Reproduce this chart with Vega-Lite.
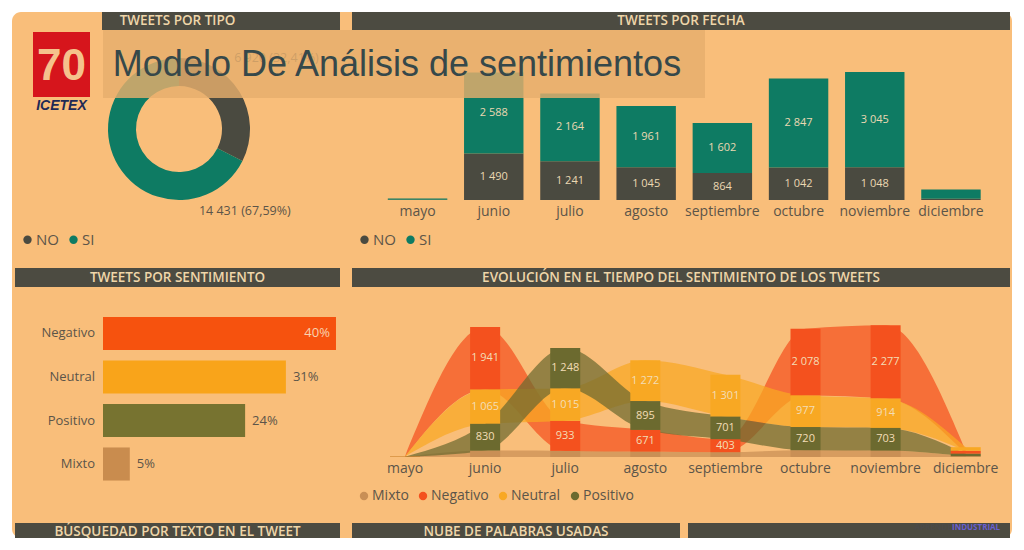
{
"$schema":"https://vega.github.io/schema/vega-lite/v6.json",
"background":"#FFFFFF",
"padding":12,
"spacing":-526,
"align":"none",
"resolve":{"scale":{"color":"independent"},"legend":{"color":"independent"}},
"config":{
 "view":{"stroke":null},
 "font":"Open Sans",
 "locale":{"number":{"decimal":",","thousands":" ","grouping":[3],"currency":["","€"]}},
 "axis":{"labelFont":"Open Sans"},
 "legend":{"labelFont":"Open Sans"}
},
"vconcat":[
 {"width":1000,"height":526,"view":{"fill":"#F9BE7A","cornerRadius":9},"data":{"values":[]},"mark":"point"},
 {"hconcat":[
   {"width":3,"height":526,"data":{"values":[]},"mark":"point"},
   {"hconcat":[
     {"vconcat":[
       {"hconcat":[
         {"vconcat":[
           {"width":87,"height":20,"data":{"values":[]},"mark":"point"},
           {"hconcat":[
             {"width":18,"height":65,"data":{"values":[]},"mark":"point"},
             {"width":57,"height":65,"view":{"fill":"#D6151C"},"data":{"values":[{}]},"mark":{"type":"text","fontSize":44,"fontWeight":"bold","font":"Liberation Sans","color":"#F5C28C","dy":2},"encoding":{"text":{"value":"70"}}}
           ],"spacing":0},
           {"hconcat":[
             {"width":18,"height":18,"data":{"values":[]},"mark":"point"},
             {"width":57,"height":18,"data":{"values":[{}]},"mark":{"type":"text","fontSize":14,"fontWeight":"bold","fontStyle":"italic","font":"Liberation Sans","color":"#1F2A55"},"encoding":{"text":{"value":"ICETEX"}}}
           ],"spacing":0},
           {"width":87,"height":143,
            "data":{"values":[{"tipo":"NO"},{"tipo":"SI"}]},
            "mark":{"type":"circle","size":0},
            "encoding":{"color":{"field":"tipo","type":"nominal","scale":{"domain":["NO","SI"],"range":["#4A4A40","#0E7B63"]},
              "legend":{"orient":"none","legendX":5,"legendY":117,"direction":"horizontal","title":null,"symbolType":"circle","symbolSize":70,"symbolOpacity":1,"labelFontSize":15,"labelColor":"#5C5549","labelOffset":1,"columnPadding":7}}}}
         ],"spacing":0,"resolve":{"scale":{"color":"independent"},"legend":{"color":"independent"}}},
         {"vconcat":[
           {"width":238,"height":18,"view":{"fill":"#4C4B41"},"data":{"values":[{}]},"mark":{"type":"text","color":"#EFD6A9","fontSize":13.5,"fontWeight":600,"dx":-43.5},"encoding":{"text":{"value":"TWEETS POR TIPO"}}},
           {"width":154,"height":198,
            "data":{"values":[{"tipo":"NO","n":6920,"label":"6 920 (32,41%)"},{"tipo":"SI","n":14431,"label":"14 431 (67,59%)"}]},
            "layer":[
              {"mark":{"type":"arc","innerRadius":43,"outerRadius":71},
               "encoding":{"theta":{"field":"n","type":"quantitative","stack":true},
                 "color":{"field":"tipo","type":"nominal","scale":{"domain":["NO","SI"],"range":["#4A4A40","#0E7B63"]},"legend":null}}},
              {"transform":[{"filter":"datum.tipo == 'SI'"}],"mark":{"type":"text","theta":2.902,"radius":84,"align":"left","baseline":"middle","fontSize":12.5,"color":"#5C5549"},"encoding":{"text":{"field":"label"}}},
              {"transform":[{"filter":"datum.tipo == 'NO'"}],"mark":{"type":"text","theta":0.66,"radius":90,"align":"left","baseline":"middle","fontSize":12.5,"color":"#5C5549"},"encoding":{"text":{"field":"label"}}}
            ]},
           {"width":238,"height":30,"data":{"values":[]},"mark":"point"}
         ],"spacing":0,"resolve":{"scale":{"color":"independent"},"legend":{"color":"independent"}}}
       ],"spacing":0,"resolve":{"scale":{"color":"independent"},"legend":{"color":"independent"}}},
       {"vconcat":[
         {"width":325,"height":19,"view":{"fill":"#4C4B41"},"data":{"values":[{}]},"mark":{"type":"text","color":"#EFD6A9","fontSize":13.5,"fontWeight":600},"encoding":{"text":{"value":"TWEETS POR SENTIMIENTO"}}},
         {"width":325,"height":226,
          "data":{"values":[{"s":"Negativo","p":0.40},{"s":"Neutral","p":0.314},{"s":"Positivo","p":0.244},{"s":"Mixto","p":0.046}]},
          "encoding":{
            "y":{"field":"s","type":"nominal","sort":null,"scale":{"paddingInner":0.24,"paddingOuter":0.7176,"align":0.48},"axis":null}
          },
          "layer":[
            {"mark":{"type":"bar"},"encoding":{
              "x":{"field":"p","type":"quantitative","scale":{"domain":[-0.1511,0.4069],"nice":false},"axis":null},
              "color":{"field":"s","type":"nominal","scale":{"domain":["Negativo","Neutral","Positivo","Mixto"],"range":["#F6520E","#F9A41A","#777330","#C98C4E"]},"legend":null}}},
            {"mark":{"type":"text","align":"right","dx":-8,"fontSize":13,"color":"#5C5549"},"encoding":{"x":{"datum":0,"type":"quantitative"},"text":{"field":"s"}}},
            {"transform":[{"filter":"datum.s == 'Negativo'"}],"mark":{"type":"text","align":"right","dx":-6,"fontSize":13,"color":"#F8D3B0"},"encoding":{"x":{"field":"p","type":"quantitative"},"text":{"field":"p","type":"quantitative","format":".0%"}}},
            {"transform":[{"filter":"datum.s != 'Negativo'"}],"mark":{"type":"text","align":"left","dx":7,"fontSize":13,"color":"#5C5549"},"encoding":{"x":{"field":"p","type":"quantitative"},"text":{"field":"p","type":"quantitative","format":".0%"}}}
          ]}
       ],"spacing":0,"resolve":{"scale":{"color":"independent"},"legend":{"color":"independent"}}},
       {"width":325,"height":15,"view":{"fill":"#4C4B41"},"data":{"values":[{}]},"mark":{"type":"text","color":"#EFD6A9","fontSize":13.5,"fontWeight":600,"baseline":"alphabetic","dy":5},"encoding":{"text":{"value":"BÚSQUEDAD POR TEXTO EN EL TWEET"}}}
     ],"spacing":10,"resolve":{"scale":{"color":"independent"},"legend":{"color":"independent"}}},
     {"vconcat":[
       {"vconcat":[
         {"width":658,"height":18,"view":{"fill":"#4C4B41"},"data":{"values":[{}]},"mark":{"type":"text","color":"#EFD6A9","fontSize":13.5,"fontWeight":600},"encoding":{"text":{"value":"TWEETS POR FECHA"}}},
         {"width":658,"height":228,
          "data":{"values":[
            {"mes":"mayo","tipo":"NO","n":8},{"mes":"mayo","tipo":"SI","n":40},
            {"mes":"junio","tipo":"NO","n":1490},{"mes":"junio","tipo":"SI","n":2588},
            {"mes":"julio","tipo":"NO","n":1241},{"mes":"julio","tipo":"SI","n":2164},
            {"mes":"agosto","tipo":"NO","n":1045},{"mes":"agosto","tipo":"SI","n":1961},
            {"mes":"septiembre","tipo":"NO","n":864},{"mes":"septiembre","tipo":"SI","n":1602},
            {"mes":"octubre","tipo":"NO","n":1042},{"mes":"octubre","tipo":"SI","n":2847},
            {"mes":"noviembre","tipo":"NO","n":1048},{"mes":"noviembre","tipo":"SI","n":3045},
            {"mes":"diciembre","tipo":"NO","n":40},{"mes":"diciembre","tipo":"SI","n":300}
          ]},
          "encoding":{
            "x":{"field":"mes","type":"nominal","sort":null,"scale":{"paddingInner":0.22,"paddingOuter":0.4275,"align":0.55},"axis":{"title":null,"domain":false,"ticks":false,"labelAngle":0,"labelPadding":4,"labelFontSize":14,"labelColor":"#5C5549","offset":-58}},
            "y":{"field":"n","type":"quantitative","stack":"zero","scale":{"domain":[-1856,5440],"nice":false},"axis":null},
            "order":{"field":"tipo","type":"ordinal","sort":"ascending"}
          },
          "layer":[
            {"mark":{"type":"bar"},"encoding":{"color":{"field":"tipo","type":"nominal","scale":{"domain":["NO","SI"],"range":["#4A4A40","#0E7B63"]},
              "legend":{"orient":"none","legendX":5,"legendY":202,"direction":"horizontal","title":null,"symbolType":"circle","symbolSize":70,"labelFontSize":15,"labelColor":"#5C5549","labelOffset":1,"columnPadding":7}}}},
            {"mark":{"type":"text","fontSize":11,"color":"#EBD8B2"},"encoding":{
              "y":{"field":"n","type":"quantitative","stack":"zero","bandPosition":0.5},
              "detail":{"field":"tipo","type":"nominal"},
              "text":{"field":"n","type":"quantitative","format":",d"},
              "opacity":{"condition":{"test":"datum.n > 500","value":1},"value":0}}}
          ]}
       ],"spacing":0,"resolve":{"scale":{"color":"independent"},"legend":{"color":"independent"}}},
       {"vconcat":[
         {"width":658,"height":19,"view":{"fill":"#4C4B41"},"data":{"values":[{}]},"mark":{"type":"text","color":"#EFD6A9","fontSize":13.5,"fontWeight":600},"encoding":{"text":{"value":"EVOLUCIÓN EN EL TIEMPO DEL SENTIMIENTO DE LOS TWEETS"}}},
         {"width":658,"height":226,
          "data":{"values":[
            {"mes":"mayo","sent":"Mixto","n":3},{"mes":"mayo","sent":"Negativo","n":6},{"mes":"mayo","sent":"Neutral","n":8},{"mes":"mayo","sent":"Positivo","n":5},
            {"mes":"junio","sent":"Mixto","n":200},{"mes":"junio","sent":"Negativo","n":1941},{"mes":"junio","sent":"Neutral","n":1065},{"mes":"junio","sent":"Positivo","n":830},
            {"mes":"julio","sent":"Mixto","n":190},{"mes":"julio","sent":"Negativo","n":933},{"mes":"julio","sent":"Neutral","n":1015},{"mes":"julio","sent":"Positivo","n":1248},
            {"mes":"agosto","sent":"Mixto","n":170},{"mes":"agosto","sent":"Negativo","n":671},{"mes":"agosto","sent":"Neutral","n":1272},{"mes":"agosto","sent":"Positivo","n":895},
            {"mes":"septiembre","sent":"Mixto","n":150},{"mes":"septiembre","sent":"Negativo","n":403},{"mes":"septiembre","sent":"Neutral","n":1301},{"mes":"septiembre","sent":"Positivo","n":701},
            {"mes":"octubre","sent":"Mixto","n":210},{"mes":"octubre","sent":"Negativo","n":2078},{"mes":"octubre","sent":"Neutral","n":977},{"mes":"octubre","sent":"Positivo","n":720},
            {"mes":"noviembre","sent":"Mixto","n":200},{"mes":"noviembre","sent":"Negativo","n":2277},{"mes":"noviembre","sent":"Neutral","n":914},{"mes":"noviembre","sent":"Positivo","n":703},
            {"mes":"diciembre","sent":"Mixto","n":25},{"mes":"diciembre","sent":"Negativo","n":95},{"mes":"diciembre","sent":"Neutral","n":110},{"mes":"diciembre","sent":"Positivo","n":75}
          ]},
          "transform":[{"stack":"n","groupby":["mes"],"sort":[{"field":"n","order":"ascending"}],"as":["y0","y1"]}],
          "encoding":{
            "x":{"field":"mes","type":"nominal","sort":["mayo","junio","julio","agosto","septiembre","octubre","noviembre","diciembre"],"scale":{"paddingInner":0.625,"paddingOuter":0.42,"align":0.565},"axis":{"title":null,"domain":false,"ticks":false,"labelAngle":0,"labelPadding":4,"labelFontSize":14,"labelColor":"#5C5549","offset":-56}}
          },
          "layer":[
            {"mark":{"type":"area","interpolate":"monotone","opacity":0.72},"encoding":{
              "y":{"field":"y1","type":"quantitative","scale":{"domain":[-1739,5280],"nice":false},"axis":null},
              "y2":{"field":"y0"},
              "color":{"field":"sent","type":"nominal","scale":{"domain":["Mixto","Negativo","Neutral","Positivo"],"range":["#C98F55","#F4511E","#F8A823","#6C6A2F"]},
              "legend":{"orient":"none","legendX":5,"legendY":202,"direction":"horizontal","title":null,"symbolType":"circle","symbolSize":70,"symbolOpacity":1,"labelFontSize":14,"labelColor":"#5C5549","labelOffset":1,"columnPadding":7}}}},
            {"mark":{"type":"bar"},"encoding":{
              "y":{"field":"y1","type":"quantitative","scale":{"domain":[-1739,5280],"nice":false},"axis":null},
              "y2":{"field":"y0"},
              "color":{"field":"sent","type":"nominal"}}},
            {"mark":{"type":"text","fontSize":11,"color":"#F3DDB6"},"encoding":{
              "y":{"field":"n","type":"quantitative","stack":"zero","bandPosition":0.5,"scale":{"domain":[-1739,5280],"nice":false},"axis":null},
              "order":{"field":"n","type":"quantitative","sort":"ascending"},
              "detail":{"field":"sent","type":"nominal"},
              "text":{"field":"n","type":"quantitative","format":",d"},
              "opacity":{"condition":{"test":"datum.n > 350","value":1},"value":0}}}
          ]}
       ],"spacing":0,"resolve":{"scale":{"color":"independent"},"legend":{"color":"independent"}}},
       {"hconcat":[
         {"width":328,"height":15,"view":{"fill":"#4C4B41"},"data":{"values":[{}]},"mark":{"type":"text","color":"#EFD6A9","fontSize":13.5,"fontWeight":600,"baseline":"alphabetic","dy":5},"encoding":{"text":{"value":"NUBE DE PALABRAS USADAS"}}},
         {"width":322,"height":15,"view":{"fill":"#4C4B41"},"data":{"values":[{}]},
          "layer":[
            {"mark":{"type":"text","align":"right","dx":103,"dy":-3,"fontSize":8,"fontWeight":"bold","color":"#4A4A4A"},"encoding":{"text":{"value":"APRENDE"}}},
            {"mark":{"type":"text","align":"left","dx":103,"dy":-3,"fontSize":8,"fontWeight":"bold","color":"#6A5FD0"},"encoding":{"text":{"value":"INDUSTRIAL"}}}
          ]}
       ],"spacing":8}
     ],"spacing":10,"resolve":{"scale":{"color":"independent"},"legend":{"color":"independent"}}}
   ],"spacing":12,"resolve":{"scale":{"color":"independent"},"legend":{"color":"independent"}}}
 ],"spacing":0,"resolve":{"scale":{"color":"independent"},"legend":{"color":"independent"}}},
 {"hconcat":[
   {"width":91,"height":86,"data":{"values":[]},"mark":"point"},
   {"vconcat":[
     {"width":602,"height":18,"data":{"values":[]},"mark":"point"},
     {"width":602,"height":68,"view":{"fill":"#E7AE6C","fillOpacity":0.82},"data":{"values":[{}]},"mark":{"type":"text","font":"Liberation Sans","fontSize":36,"color":"#36484A","dx":-7,"dy":1},"encoding":{"text":{"value":"Modelo De Análisis de sentimientos"}}}
   ],"spacing":0}
 ],"spacing":0}
]
}
